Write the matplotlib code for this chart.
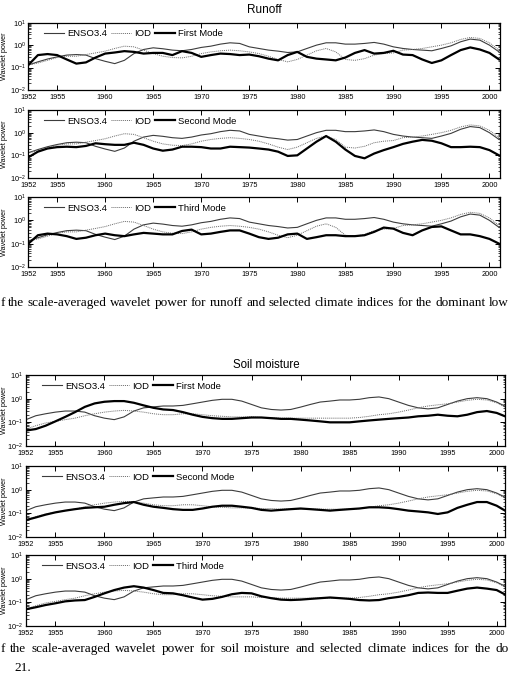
import matplotlib
matplotlib.use("Agg")
import matplotlib.pyplot as plt
from matplotlib.ticker import LogLocator, NullLocator
import numpy as np

plt.rcParams["font.family"] = ["Liberation Sans", "DejaVu Sans"]
plt.rcParams["mathtext.fontset"] = "custom"
plt.rcParams["mathtext.rm"] = "Liberation Sans"
plt.rcParams["mathtext.it"] = "Liberation Sans:italic"
plt.rcParams["mathtext.bf"] = "Liberation Sans:bold"

years = list(range(1952, 2002))
xtick_years = [1952, 1955, 1960, 1965, 1970, 1975, 1980, 1985, 1990, 1995, 2000]

# runoff panel (one per year)
enso_runoff = [0.13, 0.18, 0.24, 0.30, 0.36, 0.38, 0.36, 0.25, 0.19, 0.15,
               0.21, 0.42, 0.64, 0.76, 0.69, 0.60, 0.56, 0.64, 0.79, 0.90,
               1.11, 1.27, 1.19, 0.84, 0.71, 0.60, 0.54, 0.47, 0.50, 0.71,
               1.00, 1.27, 1.27, 1.11, 1.11, 1.19, 1.32, 1.11, 0.84, 0.71,
               0.64, 0.60, 0.56, 0.71, 0.93, 1.41, 1.86, 1.67, 1.00, 0.50]
iod_runoff = [0.13, 0.16, 0.21, 0.28, 0.32, 0.32, 0.38, 0.45, 0.54, 0.71,
              0.90, 0.84, 0.60, 0.42, 0.32, 0.28, 0.27, 0.32, 0.42, 0.50,
              0.56, 0.60, 0.56, 0.50, 0.42, 0.32, 0.23, 0.18, 0.23, 0.36,
              0.56, 0.71, 0.50, 0.23, 0.21, 0.25, 0.36, 0.42, 0.45, 0.60,
              0.64, 0.71, 0.84, 1.00, 1.27, 1.79, 2.20, 1.99, 1.27, 0.60]
mode1_runoff = [0.13, 0.36, 0.40, 0.36, 0.23, 0.15, 0.17, 0.28, 0.42, 0.47,
                0.54, 0.50, 0.42, 0.45, 0.45, 0.36, 0.54, 0.45, 0.30, 0.36,
                0.42, 0.40, 0.36, 0.38, 0.32, 0.25, 0.21, 0.36, 0.50, 0.30,
                0.25, 0.23, 0.21, 0.28, 0.45, 0.60, 0.42, 0.45, 0.56, 0.38,
                0.36, 0.23, 0.16, 0.21, 0.36, 0.60, 0.79, 0.64, 0.45, 0.23]
mode2_runoff = [0.082, 0.145, 0.20, 0.23, 0.24, 0.23, 0.26, 0.34, 0.31, 0.29,
                0.29, 0.36, 0.29, 0.20, 0.16, 0.18, 0.24, 0.24, 0.23, 0.20,
                0.20, 0.24, 0.23, 0.22, 0.20, 0.18, 0.145, 0.094, 0.10, 0.20,
                0.40, 0.71, 0.40, 0.18, 0.094, 0.074, 0.12, 0.17, 0.23, 0.32,
                0.40, 0.48, 0.44, 0.34, 0.23, 0.23, 0.24, 0.23, 0.17, 0.10]
mode3_runoff = [0.10, 0.23, 0.27, 0.25, 0.21, 0.16, 0.18, 0.23, 0.27, 0.23,
                0.21, 0.25, 0.29, 0.27, 0.25, 0.25, 0.35, 0.40, 0.25, 0.27,
                0.32, 0.37, 0.37, 0.27, 0.19, 0.16, 0.18, 0.25, 0.27, 0.16,
                0.19, 0.23, 0.23, 0.21, 0.21, 0.23, 0.32, 0.49, 0.44, 0.29,
                0.23, 0.37, 0.52, 0.55, 0.37, 0.25, 0.25, 0.21, 0.16, 0.10]

# soil moisture panel
enso_soil = [0.13, 0.19, 0.23, 0.27, 0.30, 0.30, 0.27, 0.19, 0.15, 0.13,
             0.17, 0.30, 0.41, 0.45, 0.49, 0.49, 0.52, 0.61, 0.72, 0.85,
             0.94, 0.94, 0.79, 0.57, 0.41, 0.35, 0.33, 0.35, 0.44, 0.57,
             0.72, 0.79, 0.88, 0.88, 0.94, 1.10, 1.18, 1.00, 0.72, 0.52,
             0.41, 0.37, 0.41, 0.57, 0.79, 1.00, 1.10, 1.00, 0.72, 0.45]
iod_soil = [0.052, 0.072, 0.094, 0.11, 0.13, 0.15, 0.19, 0.23, 0.27, 0.30,
            0.32, 0.30, 0.27, 0.23, 0.21, 0.21, 0.23, 0.23, 0.21, 0.19,
            0.18, 0.17, 0.17, 0.17, 0.16, 0.16, 0.15, 0.15, 0.15, 0.15,
            0.15, 0.15, 0.15, 0.15, 0.16, 0.18, 0.21, 0.23, 0.27, 0.33,
            0.41, 0.49, 0.55, 0.61, 0.72, 0.85, 0.94, 0.88, 0.67, 0.41]
mode1_soil = [0.045, 0.052, 0.072, 0.11, 0.17, 0.27, 0.45, 0.63, 0.74, 0.79,
              0.79, 0.67, 0.52, 0.41, 0.35, 0.33, 0.27, 0.21, 0.17, 0.15,
              0.14, 0.14, 0.15, 0.16, 0.16, 0.15, 0.14, 0.14, 0.13, 0.12,
              0.11, 0.10, 0.10, 0.10, 0.11, 0.12, 0.13, 0.14, 0.15, 0.16,
              0.18, 0.19, 0.21, 0.19, 0.18, 0.21, 0.27, 0.30, 0.25, 0.17]
mode2_soil = [0.052, 0.067, 0.088, 0.11, 0.13, 0.15, 0.17, 0.18, 0.19, 0.23,
              0.27, 0.30, 0.23, 0.19, 0.17, 0.15, 0.14, 0.14, 0.16, 0.19,
              0.21, 0.21, 0.19, 0.17, 0.14, 0.13, 0.14, 0.15, 0.16, 0.15,
              0.14, 0.13, 0.14, 0.15, 0.16, 0.18, 0.18, 0.17, 0.15, 0.13,
              0.12, 0.11, 0.094, 0.11, 0.17, 0.23, 0.30, 0.30, 0.21, 0.12]
mode3_soil = [0.051, 0.062, 0.077, 0.091, 0.11, 0.12, 0.125, 0.17, 0.24, 0.33,
              0.42, 0.48, 0.42, 0.33, 0.25, 0.24, 0.20, 0.16, 0.13, 0.14,
              0.17, 0.22, 0.25, 0.24, 0.18, 0.15, 0.13, 0.125, 0.13, 0.14,
              0.15, 0.16, 0.15, 0.14, 0.125, 0.12, 0.125, 0.15, 0.17, 0.20,
              0.25, 0.26, 0.25, 0.25, 0.31, 0.38, 0.42, 0.38, 0.33, 0.20]

mode_names = ["First Mode", "Second Mode", "Third Mode"]
caption_runoff = ("f the scale-averaged wavelet power for runoff and selected "
                  "climate indices for the dominant low")
caption_soil = ("f the scale-averaged wavelet power for soil moisture and "
                "selected climate indices for the do")

W, H = 510, 674
fig = plt.figure(figsize=(W / 100, H / 100), dpi=100)


def add_axes(left, right, top, bottom):
    return fig.add_axes([left / W, 1 - bottom / H, (right - left) / W,
                         (bottom - top) / H])


def draw_panel(ax, enso, iod, mode, name, xmax, label_x):
    ax.plot(years, enso, color="#3c3c3c", lw=0.8, label="ENSO3.4")
    ax.plot(years, iod, color="#6a6a6a", lw=0.7, ls=(0, (1, 1)), label="IOD")
    ax.plot(years, mode, color="black", lw=1.6, label=name)
    ax.set_yscale("log")
    ax.set_ylim(1e-2, 1e1)
    ax.set_xlim(1952, xmax)
    ax.set_xticks(xtick_years)
    ax.set_yticks([1e-2, 1e-1, 1e0, 1e1])
    ax.xaxis.set_minor_locator(NullLocator())
    ax.yaxis.set_minor_locator(LogLocator(base=10, subs=np.arange(2, 10)))
    ax.tick_params(which="both", direction="in", top=True, right=True,
                   labelsize=5.3)
    ax.tick_params(which="major", length=3.5, width=0.7)
    ax.tick_params(which="minor", length=1.8, width=0.5)
    ax.tick_params(axis="x", pad=3)
    ax.tick_params(axis="y", pad=2)
    for s in ax.spines.values():
        s.set_linewidth(0.9)
    ax.set_ylabel("Wavelet power", fontsize=5.2)
    ax.yaxis.set_label_coords(label_x, 0.5)
    ax.legend(loc="upper left", ncol=3, frameon=False, fontsize=6.8,
              handlelength=2.1, handletextpad=0.3, columnspacing=0.45,
              bbox_to_anchor=(0.02, 1.0), borderaxespad=0.3)


runoff_modes = [mode1_runoff, mode2_runoff, mode3_runoff]
runoff_rows = [(22.7, 90), (110, 178), (197, 267)]
for (top, bottom), mode, name in zip(runoff_rows, runoff_modes, mode_names):
    ax = add_axes(28.3, 500, top, bottom)
    draw_panel(ax, enso_runoff, iod_runoff, mode, name, 2001.1, -0.043)

soil_modes = [mode1_soil, mode2_soil, mode3_soil]
soil_rows = [(375, 446), (466, 537), (555, 626)]
for (top, bottom), mode, name in zip(soil_rows, soil_modes, mode_names):
    ax = add_axes(26, 505, top, bottom)
    draw_panel(ax, enso_soil, iod_soil, mode, name, 2000.85, -0.038)

fig.text(264 / W, 1 - 10 / H, "Runoff", fontsize=8.5, ha="center", va="center")
fig.text(266 / W, 1 - 365 / H, "Soil moisture", fontsize=8.3, ha="center",
         va="center")

renderer = fig.canvas.get_renderer()


def justified(text, y, x0, x1, size):
    words = text.split()
    objs = [fig.text(0, 1 - y / H, w, fontsize=size, va="center",
                     family="Liberation Serif") for w in words]
    widths = [t.get_window_extent(renderer).width for t in objs]
    gap = ((x1 - x0) - sum(widths)) / (len(words) - 1)
    x = x0
    for t, w in zip(objs, widths):
        t.set_x(x / W)
        x += w + gap


justified(caption_runoff, 303, 0.5, 509, 9.5)
justified(caption_soil, 649, 0.5, 509, 9.5)
fig.text(14 / W, 1 - 668 / H, "21.", fontsize=9.5, va="center",
         family="Liberation Serif")

fig.savefig("out.png", dpi=100)
